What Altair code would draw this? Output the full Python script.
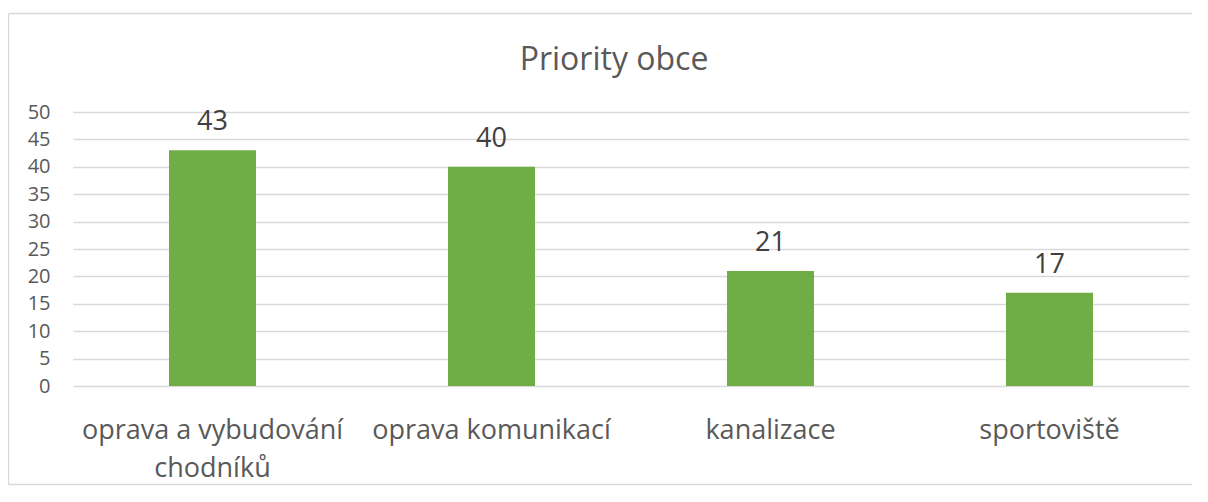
import altair as alt
import pandas as pd

categories = ["oprava a vybudování\nchodníků", "oprava komunikací", "kanalizace", "sportoviště"]
values = [43, 40, 21, 17]
title_text = "Priority obce"

df = pd.DataFrame({"kategorie": categories, "pocet": values})

FONT = "Open Sans"
GRID = "#d9d9d9"
TXT = "#595959"

x_enc = alt.X(
    "kategorie:N",
    sort=categories,
    scale=alt.Scale(paddingInner=0, paddingOuter=0),
    axis=alt.Axis(
        title=None,
        labelAngle=0,
        labelFont=FONT,
        labelFontSize=27,
        labelColor=TXT,
        labelPadding=31,
        labelLineHeight=38,
        labelExpr="split(datum.label, '\\n')",
        domain=False,
        ticks=False,
        grid=False,
        labelLimit=400,
    ),
)
y_enc = alt.Y(
    "pocet:Q",
    scale=alt.Scale(domain=[0, 50]),
    axis=alt.Axis(
        title=None,
        values=list(range(0, 55, 5)),
        labelFont=FONT,
        labelFontSize=20,
        labelColor=TXT,
        labelPadding=23,
        domain=False,
        ticks=False,
        gridColor=GRID,
        gridWidth=1.3,
    ),
)

base = alt.Chart(df)
bars = base.mark_bar(size=87, color="#70AD47").encode(x=x_enc, y=y_enc)
labels = base.mark_text(
    font=FONT, fontSize=27, color="#404040", baseline="alphabetic", dy=-20
).encode(x=x_enc, y=y_enc, text="pocet:Q")

one = alt.Data(values=[{}])
rule_style = dict(color=GRID, strokeWidth=1.5)
border_top = alt.Chart(one).mark_rule(**rule_style).encode(
    x=alt.value(-64.5), x2=alt.value(1140), y=alt.value(-98.5)
)
border_left = alt.Chart(one).mark_rule(**rule_style).encode(
    x=alt.value(-64.5), y=alt.value(-98.5), y2=alt.value(372.5)
)
border_bottom = alt.Chart(one).mark_rule(**rule_style).encode(
    x=alt.value(-64.5), x2=alt.value(1140), y=alt.value(372.5)
)

chart = (
    alt.layer(border_top, border_left, border_bottom, bars, labels)
    .properties(
        width=1116,
        height=274,
        title=alt.Title(
            title_text,
            font=FONT,
            fontSize=32,
            fontWeight="normal",
            color=TXT,
            anchor="middle",
            baseline="alphabetic",
            offset=-89,
            dx=-17,
        ),
        autosize=alt.AutoSizeParams(type="none"),
        padding={"left": 65, "top": 104, "right": 3, "bottom": 100},
    )
    .configure_view(stroke=None)
)

chart.save("out.html", embed_options={"renderer": "svg", "actions": False})
